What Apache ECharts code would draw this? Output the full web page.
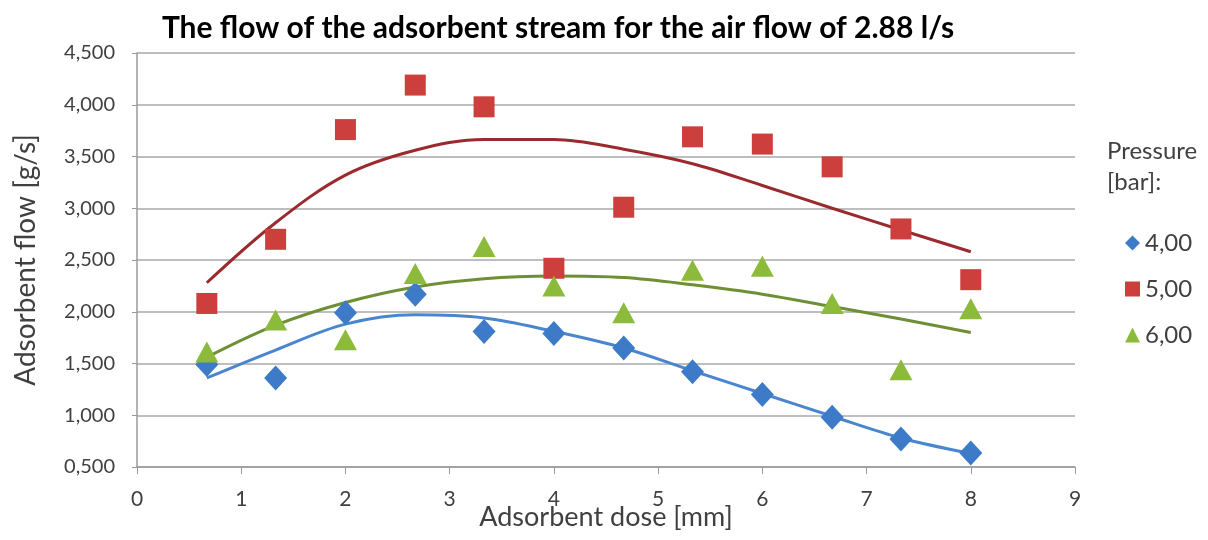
<!DOCTYPE html>
<html>
<head>
<meta charset="utf-8">
<script src="https://cdn.jsdelivr.net/npm/echarts@6/dist/echarts.min.js"></script>
<style>
  html, body { margin: 0; padding: 0; background: #fff; }
  #main { width: 1208px; height: 540px; }
</style>
</head>
<body>
<div id="main"></div>
<script>
// adsorbent dose [mm]
var doses = [0.67, 1.33, 2, 2.67, 3.33, 4, 4.67, 5.33, 6, 6.67, 7.33, 8];

// measured adsorbent flow [g/s] per pressure
var flow4 = [1.49, 1.36, 1.99, 2.17, 1.81, 1.79, 1.65, 1.42, 1.20, 0.98, 0.77, 0.635];
var flow5 = [2.08, 2.70, 3.76, 4.19, 3.98, 2.42, 3.01, 3.69, 3.62, 3.40, 2.80, 2.31];
var flow6 = [1.61, 1.92, 1.73, 2.37, 2.63, 2.25, 1.99, 2.40, 2.44, 2.08, 1.44, 2.03];

// trend lines at the same doses
var trend4 = [1.36, 1.63, 1.88, 1.97, 1.94, 1.81, 1.65, 1.43, 1.21, 0.99, 0.78, 0.63];
var trend5 = [2.28, 2.86, 3.32, 3.56, 3.665, 3.665, 3.57, 3.43, 3.22, 3.00, 2.79, 2.58];
var trend6 = [1.56, 1.87, 2.09, 2.24, 2.32, 2.345, 2.33, 2.26, 2.17, 2.05, 1.93, 1.80];

var pressures = ['4,00', '5,00', '6,00'];
var xTicks = [0, 1, 2, 3, 4, 5, 6, 7, 8, 9];

function pairs(ys) {
  return doses.map(function (x, i) { return [x, ys[i]]; });
}

var chartDom = document.getElementById('main');
var myChart = echarts.init(chartDom);
var font = 'Lato, "Open Sans", sans-serif';

var option = {
  animation: false,
  textStyle: { fontFamily: font },
  title: {
    text: 'The flow of the adsorbent stream for the air flow of 2.88 l/s',
    left: 553,
    textAlign: 'center',
    top: 8,
    textStyle: { fontFamily: font, fontSize: 30, fontWeight: 'bold', color: '#000' }
  },
  graphic: [{
    type: 'text',
    left: 1107,
    top: 136,
    style: {
      text: 'Pressure\n[bar]:',
      fontFamily: font,
      fontSize: 24,
      lineHeight: 31,
      fill: '#404040'
    }
  }],
  legend: {
    data: pressures,
    orient: 'vertical',
    left: 1120,
    top: 226,
    itemGap: 22,
    itemWidth: 15,
    itemHeight: 15,
    textStyle: { fontFamily: font, fontSize: 24, color: '#404040' }
  },
  grid: { left: 137, right: 133, top: 53, bottom: 73, outerBoundsMode: 'none' },
  xAxis: {
    type: 'value',
    min: 0,
    max: 9,
    interval: 1,
    name: 'Adsorbent dose [mm]',
    nameLocation: 'middle',
    nameGap: 37,
    nameMoveOverlap: false,
    nameTextStyle: { fontFamily: font, fontSize: 27, color: '#404040' },
    axisLine: { show: true, lineStyle: { color: '#9a9a9a', width: 1.5 } },
    axisTick: { show: true, length: 7, lineStyle: { color: '#9a9a9a' } },
    splitLine: { show: false },
    axisLabel: {
      fontFamily: font, fontSize: 21, color: '#404040', margin: 22,
      customValues: xTicks
    }
  },
  yAxis: {
    type: 'value',
    min: 0.5,
    max: 4.5,
    interval: 0.5,
    name: 'Adsorbent flow [g/s]',
    nameLocation: 'middle',
    nameGap: 97,
    nameMoveOverlap: false,
    nameTextStyle: { fontFamily: font, fontSize: 28, color: '#404040' },
    axisLine: { show: true, lineStyle: { color: '#9a9a9a', width: 1.5 } },
    axisTick: { show: true, length: 5, lineStyle: { color: '#9a9a9a' } },
    splitLine: { show: true, lineStyle: { color: '#a8a8a8', width: 1.5 } },
    axisLabel: {
      fontFamily: font, fontSize: 20, color: '#404040', margin: 22,
      formatter: function (v) { return v.toFixed(3).replace('.', ','); }
    }
  },
  series: [
    {
      name: 'trend 4', type: 'line', data: pairs(trend4), smooth: 0.35,
      symbol: 'none', lineStyle: { color: '#4a86cf', width: 3 }, z: 2, silent: true
    },
    {
      name: 'trend 5', type: 'line', data: pairs(trend5), smooth: 0.35,
      symbol: 'none', lineStyle: { color: '#9a2a2e', width: 3 }, z: 2, silent: true
    },
    {
      name: 'trend 6', type: 'line', data: pairs(trend6), smooth: 0.35,
      symbol: 'none', lineStyle: { color: '#6e8f36', width: 3 }, z: 2, silent: true
    },
    {
      name: pressures[0], type: 'scatter', data: pairs(flow4),
      symbol: 'diamond', symbolSize: [23, 25],
      itemStyle: { color: '#3d7bc8', opacity: 1 }, z: 3
    },
    {
      name: pressures[1], type: 'scatter', data: pairs(flow5),
      symbol: 'rect', symbolSize: 21,
      itemStyle: { color: '#cc3f3c', opacity: 1 }, z: 3
    },
    {
      name: pressures[2], type: 'scatter', data: pairs(flow6),
      symbol: 'triangle', symbolSize: [23, 21],
      itemStyle: { color: '#8cbb3c', opacity: 1 }, z: 3
    }
  ]
};

option && myChart.setOption(option);
</script>
</body>
</html>
